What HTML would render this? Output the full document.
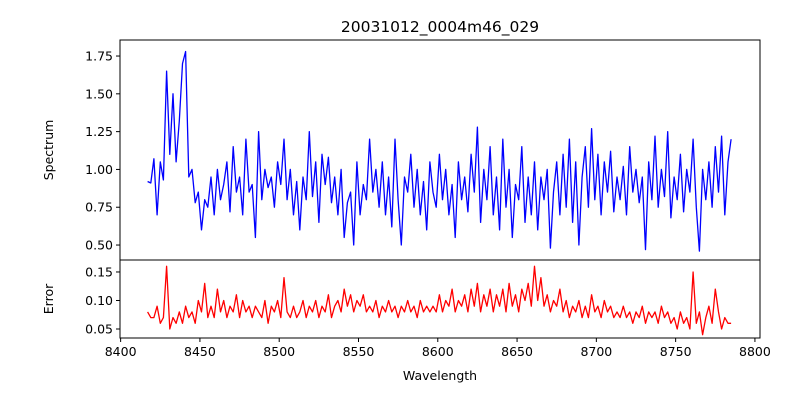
<!DOCTYPE html>
<html><head><meta charset="utf-8"><style>
body{margin:0;background:#fff;}
svg{display:block;font-family:"DejaVu Sans","Liberation Sans",sans-serif;}
</style></head><body>
<svg id="chart" width="800" height="400" viewBox="0 0 800 400">
<rect width="800" height="400" fill="#fff"/>
<text x="440" y="32" font-size="15.5" text-anchor="middle">20031012_0004m46_029</text>
<text transform="translate(53,150) rotate(-90)" font-size="12.5" text-anchor="middle">Spectrum</text>
<text transform="translate(53,299) rotate(-90)" font-size="12.5" text-anchor="middle">Error</text>
<text x="440" y="380" font-size="12.5" text-anchor="middle">Wavelength</text>
<g id="g"></g>
</svg>
<script>
const startWave = 8417, stepWave = 2;
const spectrum = [
0.92,0.91,1.07,0.70,1.05,0.93,1.65,1.10,1.50,1.05,
1.32,1.70,1.78,0.95,1.00,0.78,0.85,0.60,0.80,0.75,
0.95,0.70,1.00,0.80,0.90,1.05,0.72,1.15,0.85,0.95,
0.70,1.20,0.85,0.90,0.55,1.25,0.80,1.00,0.88,0.95,
0.75,1.05,0.90,1.20,0.80,1.00,0.70,0.92,0.60,0.95,
0.80,1.25,0.82,1.05,0.65,1.10,0.90,1.08,0.78,0.95,
0.70,1.00,0.55,0.78,0.85,0.50,1.05,0.70,0.90,0.80,
1.20,0.85,1.00,0.75,1.05,0.70,0.95,0.62,1.20,0.80,
0.50,0.95,0.85,1.10,0.75,1.00,0.70,0.92,0.60,1.05,
0.85,0.75,1.10,0.80,1.00,0.70,0.90,0.55,1.05,0.80,
0.95,0.72,1.10,0.85,1.28,0.65,1.00,0.80,1.15,0.70,
0.95,0.60,1.20,0.75,1.00,0.55,0.90,0.80,1.15,0.65,
0.95,0.70,1.05,0.60,0.95,0.80,1.00,0.48,0.85,1.05,
0.70,1.10,0.75,1.20,0.65,1.05,0.50,0.95,1.15,0.75,
1.27,0.80,1.10,0.70,1.05,0.85,1.12,0.72,0.95,0.80,
1.02,0.70,1.15,0.85,1.00,0.78,0.95,0.47,1.05,0.80,
1.22,0.75,1.00,0.82,1.25,0.68,0.95,0.80,1.10,0.72,
1.00,0.85,1.20,0.75,0.46,1.00,0.80,1.05,0.75,1.15,
0.85,1.22,0.70,1.05,1.20];
const errors = [
0.08,0.07,0.07,0.09,0.06,0.07,0.16,0.05,0.07,0.06,
0.08,0.06,0.09,0.07,0.08,0.06,0.10,0.08,0.13,0.07,
0.09,0.07,0.12,0.08,0.10,0.07,0.09,0.08,0.11,0.07,
0.10,0.08,0.09,0.07,0.09,0.08,0.07,0.10,0.06,0.09,
0.08,0.10,0.07,0.14,0.08,0.07,0.09,0.07,0.08,0.10,
0.07,0.09,0.08,0.10,0.07,0.09,0.08,0.11,0.07,0.09,
0.10,0.08,0.12,0.09,0.11,0.08,0.10,0.09,0.11,0.08,
0.09,0.08,0.10,0.07,0.09,0.08,0.10,0.08,0.09,0.07,
0.09,0.08,0.10,0.08,0.09,0.07,0.10,0.08,0.09,0.08,
0.09,0.08,0.11,0.08,0.10,0.09,0.12,0.08,0.10,0.09,
0.11,0.08,0.12,0.09,0.13,0.08,0.11,0.09,0.12,0.08,
0.11,0.09,0.12,0.08,0.13,0.09,0.11,0.08,0.12,0.10,
0.13,0.09,0.16,0.10,0.14,0.09,0.11,0.08,0.10,0.09,
0.12,0.08,0.10,0.07,0.09,0.08,0.10,0.07,0.09,0.07,
0.11,0.08,0.09,0.07,0.10,0.08,0.09,0.07,0.08,0.07,
0.09,0.07,0.08,0.06,0.08,0.07,0.09,0.06,0.08,0.07,
0.08,0.06,0.09,0.07,0.08,0.06,0.07,0.05,0.08,0.06,
0.07,0.05,0.15,0.06,0.08,0.04,0.07,0.09,0.06,0.12,
0.08,0.05,0.07,0.06,0.06];
const xTicks = [8400,8450,8500,8550,8600,8650,8700,8750,8800];
const specTicks = [0.50,0.75,1.00,1.25,1.50,1.75];
const errTicks = [0.05,0.10,0.15];

const NS="http://www.w3.org/2000/svg";
const g=document.getElementById('g');
const L=120,R=760,T1=40,B1=260,T2=260,B2=338;
const xS=v=>L+(v-8399.6)/(8803.2-8399.6)*(R-L);
const yS1=v=>T1+(1.856-v)/(1.856-0.401)*(B1-T1);
const yS2=v=>T2+(0.171-v)/(0.171-0.0342)*(B2-T2);
function mk(tag,attrs){const e=document.createElementNS(NS,tag);for(const k in attrs)e.setAttribute(k,attrs[k]);g.appendChild(e);return e;}
function line(d,color,name){
  const p=mk('path',{d:d,fill:'none',stroke:color,'stroke-width':1.3,'stroke-linejoin':'round'});
  
  
}
let d1='',d2='';
spectrum.forEach((v,i)=>{const x=xS(startWave+i*stepWave);d1+=(i?'L':'M')+x.toFixed(1)+','+yS1(v).toFixed(1);});
errors.forEach((v,i)=>{const x=xS(startWave+i*stepWave);d2+=(i?'L':'M')+x.toFixed(1)+','+yS2(v).toFixed(1);});
line(d1,'#0000ff','spectrum-line');
line(d2,'#ff0000','error-line');
const f1=mk('rect',{x:L,y:T1,width:R-L,height:B1-T1,fill:'none',stroke:'#000','stroke-width':1});


const f2=mk('rect',{x:L,y:T2,width:R-L,height:B2-T2,fill:'none',stroke:'#000','stroke-width':1});


xTicks.forEach(t=>{const x=xS(t);
  mk('line',{x1:x,x2:x,y1:B2,y2:B2+4,stroke:'#000'});
  const tx=mk('text',{x:x,y:B2+18,'font-size':12.5,'text-anchor':'middle'});tx.textContent=t;
  
  
});
specTicks.forEach(t=>{const y=yS1(t);
  mk('line',{x1:L-4,x2:L,y1:y,y2:y,stroke:'#000'});
  const tx=mk('text',{x:L-7,y:y+4.5,'font-size':12.5,'text-anchor':'end'});tx.textContent=t.toFixed(2);
  
  
});
errTicks.forEach(t=>{const y=yS2(t);
  mk('line',{x1:L-4,x2:L,y1:y,y2:y,stroke:'#000'});
  const tx=mk('text',{x:L-7,y:y+4.5,'font-size':12.5,'text-anchor':'end'});tx.textContent=t.toFixed(2);
  
  
});
</script>
</body></html>
